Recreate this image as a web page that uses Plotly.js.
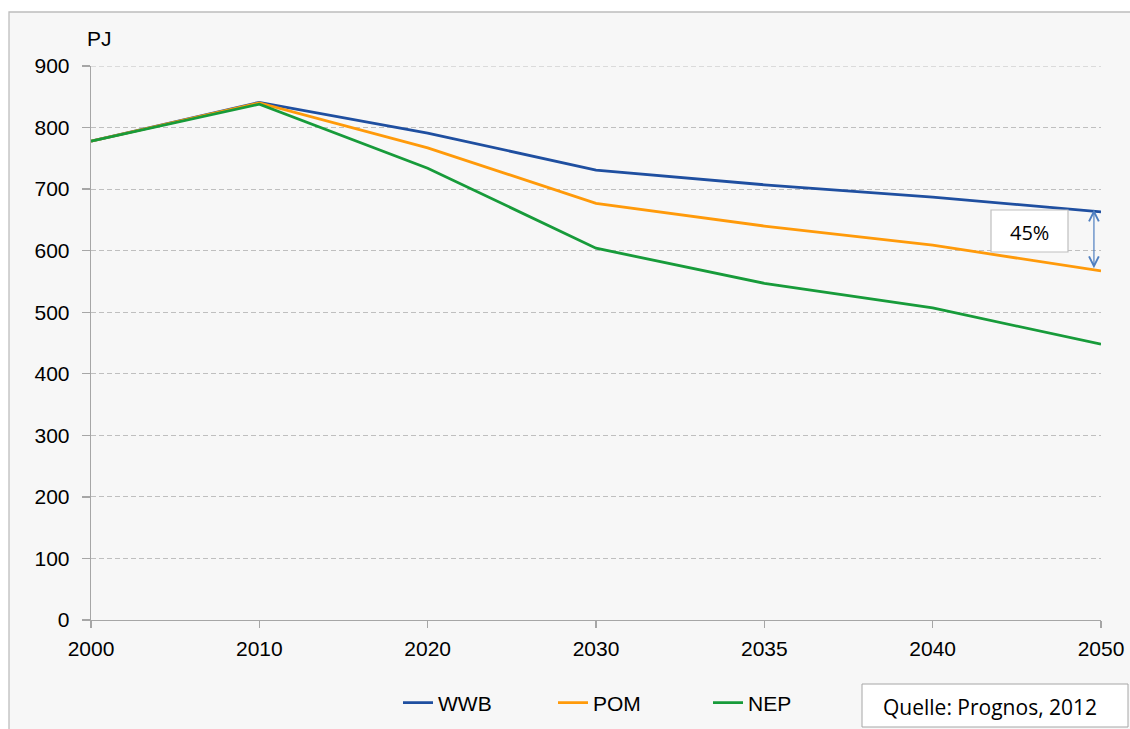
<!DOCTYPE html>
<html>
<head>
<meta charset="utf-8">
<script src="https://cdn.plot.ly/plotly-3.0.1.min.js"></script>
<style>
html,body{margin:0;padding:0;background:#fff;}
#chart{width:1130px;height:729px;}
</style>
</head>
<body>
<div id="chart"></div>
<script>
var years = ['2000', '2010', '2020', '2030', '2035', '2040', '2050'];
var wwb = [778, 841, 791, 731, 707, 687, 663];
var pom = [778, 840, 767, 677, 640, 609, 567];
var nep = [778, 838, 734, 604, 547, 507, 448];
var seriesNames = ['WWB', 'POM', 'NEP'];
var seriesColors = ['#1f4fa0', '#ff9a0a', '#179b3a'];
var yTicks = [0, 100, 200, 300, 400, 500, 600, 700, 800, 900];
var unitLabel = 'PJ';
var sourceText = 'Quelle: Prognos, 2012';
var diffText = '45%';

var L = 91, R = 1101, T = 66, B = 620;
function px(x) { return (x - L) / (R - L); }
function py(y) { return (B - y) / (B - T); }

var series = [wwb, pom, nep];
var traces = series.map(function (s, i) {
  return {
    x: years, y: s, type: 'scatter', mode: 'lines', name: seriesNames[i],
    line: {color: seriesColors[i], width: 2.8},
    hoverinfo: 'x+y+name'
  };
});

var fontMain = 'Liberation Sans, Arial, sans-serif';
var fontNote = 'Open Sans, sans-serif';

var layout = {
  width: 1130, height: 729,
  margin: {l: L, r: 1130 - R, t: T, b: 729 - B, autoexpand: false},
  paper_bgcolor: '#ffffff',
  plot_bgcolor: 'rgba(0,0,0,0)',
  showlegend: true,
  legend: {
    orientation: 'h', x: px(398), xanchor: 'left', y: py(703), yanchor: 'middle',
    font: {family: fontMain, size: 21, color: '#000'},
    bgcolor: 'rgba(0,0,0,0)', entrywidth: 110, entrywidthmode: 'pixels'
  },
  xaxis: {
    type: 'category', range: [0, 6], fixedrange: true,
    showgrid: false, zeroline: false,
    showline: true, linecolor: '#a6a6a6', linewidth: 1.3,
    ticks: 'outside', ticklen: 7, tickcolor: '#a6a6a6', tickwidth: 1.3,
    tickfont: {family: fontMain, size: 21, color: '#000'},
    ticklabelstandoff: 2
  },
  yaxis: {
    range: [0, 900], tickvals: yTicks, ticktext: yTicks.map(String), fixedrange: true,
    showgrid: true, gridcolor: '#bfbfbf', gridwidth: 1.2, griddash: '5px,3px',
    zeroline: false,
    showline: true, linecolor: '#a6a6a6', linewidth: 1.3,
    ticks: 'outside', ticklen: 8, tickcolor: '#a6a6a6', tickwidth: 1.3,
    tickfont: {family: fontMain, size: 21, color: '#000'},
    ticklabelstandoff: 8
  },
  shapes: [
    {type: 'rect', xref: 'paper', yref: 'paper', layer: 'below',
     x0: px(9), x1: px(1140), y0: py(740), y1: py(12),
     fillcolor: '#f7f7f7', line: {color: '#bdbdbd', width: 1.3}},
    {type: 'line', xref: 'paper', yref: 'y', layer: 'below',
     x0: 0, x1: 1, y0: yTicks[yTicks.length - 1], y1: yTicks[yTicks.length - 1],
     line: {color: '#bfbfbf', width: 1.2, dash: '5px,3px'}},
    {type: 'rect', xref: 'paper', yref: 'paper', layer: 'above',
     x0: px(862), x1: px(1128), y0: py(727), y1: py(684),
     fillcolor: '#ffffff', line: {color: '#a6a6a6', width: 1}},
    {type: 'rect', xref: 'paper', yref: 'paper', layer: 'above',
     x0: px(991), x1: px(1068), y0: py(252), y1: py(210),
     fillcolor: '#ffffff', line: {color: '#bfbfbf', width: 1.2}}
  ],
  annotations: [
    {xref: 'paper', yref: 'paper', x: px(85), y: py(39), xanchor: 'left', yanchor: 'middle',
     text: unitLabel, showarrow: false, font: {family: fontMain, size: 21, color: '#000'}},
    {xref: 'paper', yref: 'paper', x: px(990), y: py(707), xanchor: 'center', yanchor: 'middle',
     text: sourceText, showarrow: false, font: {family: fontNote, size: 21, color: '#000'}},
    {xref: 'paper', yref: 'paper', x: px(1029.5), y: py(232), xanchor: 'center', yanchor: 'middle',
     text: diffText, showarrow: false, font: {family: fontNote, size: 20, color: '#000'}},
    {xref: 'x', yref: 'y', axref: 'x', ayref: 'y',
     x: 5.958, y: wwb[6] + 4, ax: 5.958, ay: pom[6] + 2,
     text: '', showarrow: true, arrowside: 'end+start',
     arrowhead: 5, startarrowhead: 5, arrowsize: 1.6, startarrowsize: 1.6,
     arrowwidth: 1.2, arrowcolor: '#4f7fc0', standoff: 0, startstandoff: 0}
  ]
};

Plotly.newPlot('chart', traces, layout, {displayModeBar: false, staticPlot: true});
</script>
</body>
</html>
